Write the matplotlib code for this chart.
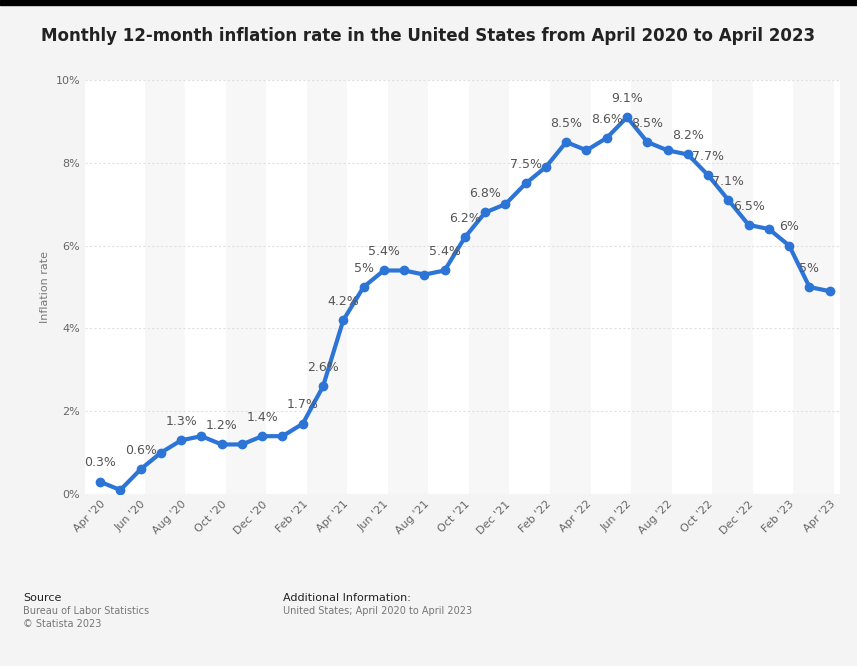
import matplotlib.pyplot as plt

months = ["Apr '20", "May '20", "Jun '20", "Jul '20", "Aug '20", "Sep '20", "Oct '20", "Nov '20", "Dec '20",
          "Jan '21", "Feb '21", "Mar '21", "Apr '21", "May '21", "Jun '21", "Jul '21", "Aug '21", "Sep '21",
          "Oct '21", "Nov '21", "Dec '21", "Jan '22", "Feb '22", "Mar '22", "Apr '22", "May '22", "Jun '22",
          "Jul '22", "Aug '22", "Sep '22", "Oct '22", "Nov '22", "Dec '22", "Jan '23", "Feb '23", "Mar '23",
          "Apr '23"]
rates = [0.3, 0.1, 0.6, 1.0, 1.3, 1.4, 1.2, 1.2, 1.4, 1.4, 1.7, 2.6, 4.2, 5.0, 5.4, 5.4, 5.3, 5.4,
         6.2, 6.8, 7.0, 7.5, 7.9, 8.5, 8.3, 8.6, 9.1, 8.5, 8.3, 8.2, 7.7, 7.1, 6.5, 6.4, 6.0, 5.0, 4.9]
labels = ["0.3%", None, "0.6%", None, "1.3%", None, "1.2%", None, "1.4%", None, "1.7%", "2.6%", "4.2%",
          "5%", "5.4%", None, None, "5.4%", "6.2%", "6.8%", None, "7.5%", None, "8.5%", None, "8.6%",
          "9.1%", "8.5%", None, "8.2%", "7.7%", "7.1%", "6.5%", None, "6%", "5%", None]

bg = "#f4f4f4"
fig = plt.figure(figsize=(8.57, 6.66), dpi=100, facecolor=bg)
fig.patches.append(plt.Rectangle((0, 0.993), 1, 0.007, transform=fig.transFigure, color="black"))
ax = fig.add_axes([0.099, 0.258, 0.881, 0.622])
ax.set_facecolor("white")

x = list(range(len(rates)))
for k in range(0, len(rates), 4):
    ax.axvspan(k + 2.2, k + 4.2, color="#f7f7f7", zorder=0, lw=0)
ax.plot(x, rates, color="#2c74d6", lw=3, marker="o", ms=6, zorder=3)
for i, (v, t) in enumerate(zip(rates, labels)):
    if t:
        ax.annotate(t, (i, v), xytext=(0, 11), textcoords="offset points", ha="center",
                    fontsize=9, color="#555555")

ax.set_xlim(-0.75, 36.5)
ax.set_ylim(0, 10)
ax.set_yticks(range(0, 11, 2))
ax.set_yticklabels([f"{v}%" for v in range(0, 11, 2)])
ax.set_xticks(x[::2])
ax.set_xticklabels(months[::2], rotation=45, ha="right", rotation_mode="anchor")
ax.tick_params(colors="#666666", labelsize=8, length=0)
ax.grid(axis="y", color="#e0e0e0", ls=(0, (2, 2)), lw=0.8)
for s in ax.spines.values():
    s.set_visible(False)
ax.set_ylabel("Inflation rate", color="#777777", fontsize=8)

fig.text(0.5, 0.938, "Monthly 12-month inflation rate in the United States from April 2020 to April 2023",
         ha="center", fontsize=12, fontweight="bold", color="#222222")
fig.text(0.027, 0.098, "Source", fontsize=8, color="#222222")
fig.text(0.027, 0.078, "Bureau of Labor Statistics", fontsize=7, color="#777777")
fig.text(0.027, 0.058, "© Statista 2023", fontsize=7, color="#777777")
fig.text(0.33, 0.098, "Additional Information:", fontsize=8, color="#222222")
fig.text(0.33, 0.078, "United States; April 2020 to April 2023", fontsize=7, color="#777777")

fig.savefig("out.png", dpi=100, facecolor=bg)
